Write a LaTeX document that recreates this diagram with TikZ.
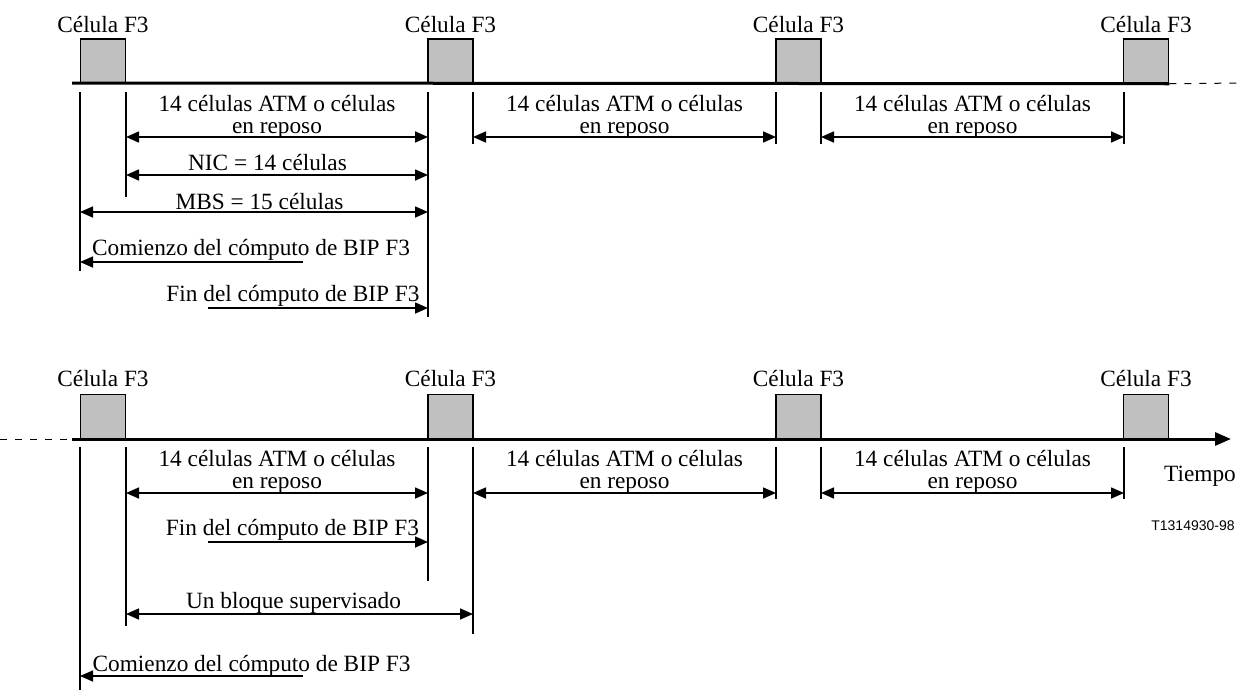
\documentclass[tikz,border=0pt]{standalone}
\usepackage{fontspec}
\setmainfont{Liberation Serif}
\newfontfamily\codefont{Liberation Sans}
\usetikzlibrary{arrows.meta}
\definecolor{cellgray}{RGB}{192,192,192}
\tikzset{
  txt/.style={font=\fontsize{23.3}{21.6}\selectfont, inner sep=0pt, anchor=base, align=center},
  cellbox/.style={draw, line width=1.5pt, fill=cellgray, minimum width=45pt, minimum height=44pt, inner sep=0pt},
  timeline/.style={line width=3pt},
  dashline/.style={line width=1pt, dash pattern=on 7pt off 8pt},
  tick/.style={line width=2pt},
  dim/.style={line width=1.6pt, {Triangle[length=13pt,width=11pt]}-{Triangle[length=13pt,width=11pt]}},
  oneway/.style={line width=1.6pt, -{Triangle[length=13pt,width=11pt]}},
}
\begin{document}
\begin{tikzpicture}[x=1pt,y=-1pt]
\useasboundingbox (0,0) rectangle (1242,691);

% ---------- top row ----------
\foreach \n/\x in {t1/103, t2/450.5, t3/798.5, t4/1146}{
  \node[cellbox] (\n) at (\x,61) {};
  \node[txt] (\n l) at (\x,32) {Célula F3};
}
\coordinate (tstart) at (72,83);
\coordinate (tend) at (1242,83);
\draw[timeline] (tstart) -- (t4.south east);
\draw[dashline] (t4.south east) -- (tend);

% ticks top
\foreach \n/\x/\b in {a/80/271, b/126/197, c/428/317, d/473/144, e/776/144, f/821/144, g/1124/144}{
  \coordinate (ttop\n) at (\x,92);
  \coordinate (tbot\n) at (\x,\b);
  \draw[tick] (ttop\n) -- (tbot\n);
}

% dimension arrows top
\coordinate (d1a) at (126,137); \coordinate (d1b) at (428,137);
\coordinate (d2a) at (473,137); \coordinate (d2b) at (776,137);
\coordinate (d3a) at (821,137); \coordinate (d3b) at (1124,137);
\draw[dim] (d1a) -- (d1b);
\draw[dim] (d2a) -- (d2b);
\draw[dim] (d3a) -- (d3b);
\node[txt] (tx1) at (277,133) {14 células ATM o células\\en reposo};
\node[txt] (tx2) at (624.5,133) {14 células ATM o células\\en reposo};
\node[txt] (tx3) at (972.5,133) {14 células ATM o células\\en reposo};

\coordinate (nica) at (126,175); \coordinate (nicb) at (428,175);
\draw[dim] (nica) -- (nicb);
\node[txt] (nic) at (267.5,170) {NIC = 14 células};

\coordinate (mbsa) at (80,212); \coordinate (mbsb) at (428,212);
\draw[dim] (mbsa) -- (mbsb);
\node[txt] (mbs) at (259.5,209) {MBS = 15 células};

\coordinate (coma) at (303,262); \coordinate (comb) at (80,262);
\draw[oneway] (coma) -- (comb);
\node[txt] (com) at (251,255) {Comienzo del cómputo de BIP F3};

\coordinate (fina) at (208,308); \coordinate (finb) at (428,308);
\draw[oneway] (fina) -- (finb);
\node[txt] (fin) at (293,301.7) {Fin del cómputo de BIP F3};

% ---------- bottom row ----------
\foreach \n/\x in {u1/103, u2/450.5, u3/798.5, u4/1146}{
  \node[cellbox] (\n) at (\x,416.5) {};
  \node[txt] (\n l) at (\x,386.7) {Célula F3};
}
\coordinate (ustart) at (0,439);
\coordinate (umid) at (72,439);
\coordinate (uend) at (1231,439);
\draw[dashline] (ustart) -- (umid);
\draw[timeline, -{Triangle[length=16pt,width=13pt]}] (umid) -- (uend);
\node[txt] (tiempo) at (1200,481.7) {Tiempo};
\node[inner sep=0pt, anchor=base, font=\codefont\fontsize{14}{16}\selectfont] (code) at (1193,530) {T1314930-98};

\foreach \n/\x/\b in {a/80/690, b/126/626, c/428/581, d/473/634, e/776/499, f/821/499, g/1124/499}{
  \coordinate (utop\n) at (\x,447);
  \coordinate (ubot\n) at (\x,\b);
  \draw[tick] (utop\n) -- (ubot\n);
}

\coordinate (e1a) at (126,493); \coordinate (e1b) at (428,493);
\coordinate (e2a) at (473,493); \coordinate (e2b) at (776,493);
\coordinate (e3a) at (821,493); \coordinate (e3b) at (1124,493);
\draw[dim] (e1a) -- (e1b);
\draw[dim] (e2a) -- (e2b);
\draw[dim] (e3a) -- (e3b);
\node[txt] (ux1) at (277,488.3) {14 células ATM o células\\en reposo};
\node[txt] (ux2) at (624.5,488.3) {14 células ATM o células\\en reposo};
\node[txt] (ux3) at (972.5,488.3) {14 células ATM o células\\en reposo};

\coordinate (ufina) at (208,542); \coordinate (ufinb) at (428,542);
\draw[oneway] (ufina) -- (ufinb);
\node[txt] (ufin) at (292.5,535) {Fin del cómputo de BIP F3};

\coordinate (blka) at (126,614); \coordinate (blkb) at (473,614);
\draw[dim] (blka) -- (blkb);
\node[txt] (blk) at (293.5,608) {Un bloque supervisado};

\coordinate (ucoma) at (303,676); \coordinate (ucomb) at (80,676);
\draw[oneway] (ucoma) -- (ucomb);
\node[txt] (ucom) at (251.5,671.7) {Comienzo del cómputo de BIP F3};
\end{tikzpicture}
\end{document}
